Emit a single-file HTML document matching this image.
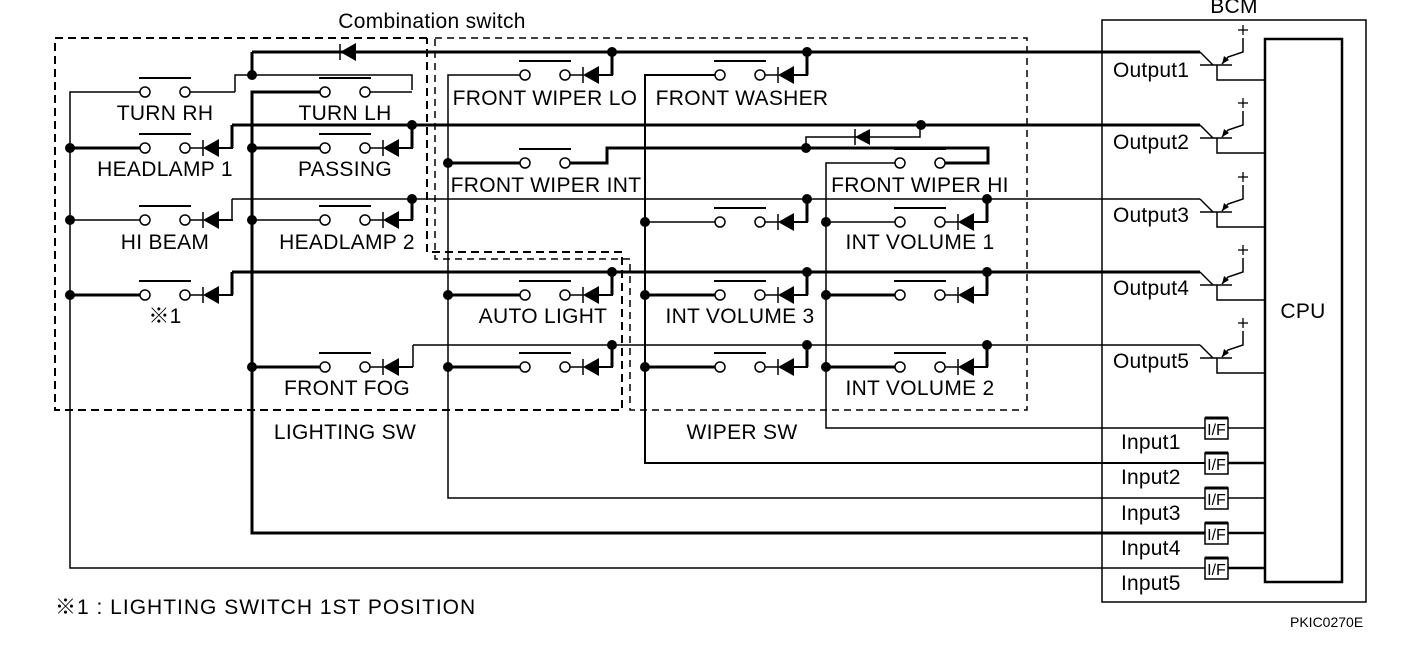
<!DOCTYPE html>
<html><head><meta charset="utf-8"><style>
html,body{margin:0;padding:0;background:#fff;}
svg{display:block;}
text{font-family:"Liberation Sans","Noto Sans CJK JP",sans-serif;fill:#000;}
</style></head><body>
<svg width="1408" height="650" viewBox="0 0 1408 650" xmlns="http://www.w3.org/2000/svg">
<defs>
<g id="sw">
<line x1="-6" y1="-14" x2="46" y2="-14" stroke="#000" stroke-width="2"/>
<line x1="45" y1="0" x2="58" y2="0" stroke="#000" stroke-width="1.5"/>
<line x1="58" y1="-8" x2="58" y2="8" stroke="#000" stroke-width="1.5"/>
<polygon points="58,0 74,-9 74,9" fill="#000"/>
<line x1="73" y1="0" x2="88" y2="0" stroke="#000" stroke-width="2"/>
<circle cx="0" cy="0" r="5" fill="#fff" stroke="#000" stroke-width="1.5"/>
<circle cx="40" cy="0" r="5" fill="#fff" stroke="#000" stroke-width="1.5"/>
</g>
<g id="sw0">
<line x1="-6" y1="-14" x2="46" y2="-14" stroke="#000" stroke-width="2"/>
<circle cx="0" cy="0" r="5" fill="#fff" stroke="#000" stroke-width="1.5"/>
<circle cx="40" cy="0" r="5" fill="#fff" stroke="#000" stroke-width="1.5"/>
</g>
<g id="tr">
<polyline points="0,0 13,13" fill="none" stroke="#000" stroke-width="1.5"/>
<line x1="0" y1="13" x2="32" y2="13" stroke="#000" stroke-width="1.5"/>
<polyline points="17,13 17,28 65,28" fill="none" stroke="#000" stroke-width="1.5"/>
<polyline points="22,12 28,5 43,0 43,-14" fill="none" stroke="#000" stroke-width="1.5"/>
<polygon points="22,12 24,4 29,8" fill="#000"/>
<line x1="38" y1="-22" x2="48" y2="-22" stroke="#000" stroke-width="1.3"/>
<line x1="43" y1="-27" x2="43" y2="-17" stroke="#000" stroke-width="1.3"/>
</g>
<g id="if">
<rect x="0" y="-10" width="23" height="21" fill="#fff" stroke="#000" stroke-width="1.5"/>
<line x1="0" y1="-10" x2="23" y2="-10" stroke="#000" stroke-width="3"/>
<text x="11.5" y="7" font-size="16" text-anchor="middle">I/F</text>
</g>
</defs>

<g fill="none" stroke="#000" stroke-width="2" stroke-dasharray="8,5">
<polyline points="427,38 55,38 55,410 622,410 622,252 427,252 427,38"/>
<polyline points="435,38 1027,38 1027,410 630,410 630,259 435,259 435,38" stroke-width="1.5" stroke-dasharray="7,5"/>
</g>

<g fill="none" stroke="#000" stroke-linejoin="miter">
<line x1="252" y1="52" x2="1200" y2="52" stroke-width="3"/>
<line x1="232" y1="125" x2="1200" y2="125" stroke-width="3"/>
<line x1="232" y1="199" x2="1200" y2="199" stroke-width="1.5"/>
<line x1="232" y1="272" x2="1200" y2="272" stroke-width="3"/>
<line x1="413" y1="345" x2="1200" y2="345" stroke-width="1.5"/>

<polyline points="252,52 252,75" stroke-width="3"/>
<polyline points="235,92 235,75 412,75 412,90" stroke-width="1.5"/>
<polyline points="190,92 235,92" stroke-width="1.5"/>
<polyline points="370,92 412,92" stroke-width="1.5"/>
<polyline points="140,92 70,92 70,568 1205,568" stroke-width="1.5"/>
<polyline points="320,92 252,92 252,533 1205,533" stroke-width="3"/>
<polyline points="520,75 448,75 448,498 1205,498" stroke-width="1.5"/>
<polyline points="715,75 645,75 645,463 1205,463" stroke-width="2"/>
<polyline points="895,163 826,163 826,428 1205,428" stroke-width="1.5"/>

<line x1="70" y1="148" x2="140" y2="148" stroke-width="3"/>
<line x1="70" y1="220" x2="140" y2="220" stroke-width="1.5"/>
<line x1="70" y1="295" x2="140" y2="295" stroke-width="3"/>
<line x1="252" y1="148" x2="320" y2="148" stroke-width="3"/>
<line x1="252" y1="220" x2="320" y2="220" stroke-width="1.5"/>
<line x1="252" y1="367" x2="320" y2="367" stroke-width="3"/>
<polyline points="232,148 232,125" stroke-width="3"/>
<polyline points="232,220 232,199" stroke-width="1.5"/>
<polyline points="232,295 232,272" stroke-width="3"/>
<polyline points="412,148 412,125" stroke-width="3"/>
<polyline points="412,220 412,199" stroke-width="3"/>
<polyline points="413,367 413,345" stroke-width="1.5"/>

<polyline points="612,75 612,52" stroke-width="3"/>
<polyline points="807,75 807,52" stroke-width="3"/>
<line x1="448" y1="163" x2="520" y2="163" stroke-width="3"/>
<polyline points="570,163 607,163 607,148 988,148 988,163 945,163" stroke-width="3"/>
<polyline points="806,148 806,137 920,137 920,125" stroke-width="1.5"/>
<line x1="448" y1="295" x2="520" y2="295" stroke-width="3"/>
<line x1="448" y1="367" x2="520" y2="367" stroke-width="3"/>
<polyline points="612,295 612,272" stroke-width="3"/>
<polyline points="612,367 612,345" stroke-width="3"/>
<line x1="645" y1="222" x2="715" y2="222" stroke-width="1.5"/>
<line x1="645" y1="295" x2="715" y2="295" stroke-width="3"/>
<line x1="645" y1="367" x2="715" y2="367" stroke-width="3"/>
<polyline points="807,222 807,199" stroke-width="3"/>
<polyline points="807,295 807,272" stroke-width="3"/>
<polyline points="807,367 807,345" stroke-width="3"/>
<line x1="826" y1="222" x2="895" y2="222" stroke-width="1.5"/>
<line x1="826" y1="295" x2="895" y2="295" stroke-width="3"/>
<line x1="826" y1="367" x2="895" y2="367" stroke-width="3"/>
<polyline points="987,222 987,199" stroke-width="3"/>
<polyline points="987,295 987,272" stroke-width="3"/>
<polyline points="987,367 987,345" stroke-width="3"/>

<rect x="1102" y="20" width="264" height="582" stroke-width="1.5"/>
<rect x="1265" y="39" width="77" height="543" stroke-width="2.5"/>
<line x1="1228" y1="428" x2="1265" y2="428" stroke-width="1.5"/>
<line x1="1228" y1="463" x2="1265" y2="463" stroke-width="2.5"/>
<line x1="1228" y1="498" x2="1265" y2="498" stroke-width="1.5"/>
<line x1="1228" y1="533" x2="1265" y2="533" stroke-width="2.5"/>
<line x1="1228" y1="568" x2="1265" y2="568" stroke-width="2.5"/>
</g>

<line x1="340" y1="44" x2="340" y2="60" stroke="#000" stroke-width="1.5"/>
<polygon points="340,52 356,43 356,61" fill="#000"/>
<line x1="855" y1="129" x2="855" y2="145" stroke="#000" stroke-width="1.5"/>
<polygon points="855,137 870,129 870,145" fill="#000"/>

<use href="#tr" x="1200" y="52"/>
<use href="#tr" x="1200" y="125"/>
<use href="#tr" x="1200" y="199"/>
<use href="#tr" x="1200" y="272"/>
<use href="#tr" x="1200" y="345"/>
<use href="#if" x="1205" y="428"/>
<use href="#if" x="1205" y="463"/>
<use href="#if" x="1205" y="498"/>
<use href="#if" x="1205" y="533"/>
<use href="#if" x="1205" y="568"/>

<use href="#sw0" x="145" y="92"/>
<use href="#sw0" x="325" y="92"/>
<use href="#sw" x="145" y="148"/>
<use href="#sw" x="325" y="148"/>
<use href="#sw" x="145" y="220"/>
<use href="#sw" x="325" y="220"/>
<use href="#sw" x="145" y="295"/>
<use href="#sw" x="325" y="367"/>
<use href="#sw" x="525" y="75"/>
<use href="#sw" x="720" y="75"/>
<use href="#sw0" x="525" y="163"/>
<use href="#sw0" x="900" y="163"/>
<use href="#sw" x="720" y="222"/>
<use href="#sw" x="900" y="222"/>
<use href="#sw" x="525" y="295"/>
<use href="#sw" x="720" y="295"/>
<use href="#sw" x="900" y="295"/>
<use href="#sw" x="525" y="367"/>
<use href="#sw" x="720" y="367"/>
<use href="#sw" x="900" y="367"/>

<g fill="#000">
<circle cx="252" cy="75" r="5"/>
<circle cx="70" cy="148" r="5"/><circle cx="70" cy="220" r="5"/><circle cx="70" cy="295" r="5"/>
<circle cx="252" cy="148" r="5"/><circle cx="252" cy="220" r="5"/><circle cx="252" cy="367" r="5"/>
<circle cx="412" cy="125" r="5"/><circle cx="412" cy="199" r="5"/>
<circle cx="612" cy="52" r="5"/><circle cx="807" cy="52" r="5"/>
<circle cx="448" cy="163" r="5"/><circle cx="448" cy="295" r="5"/><circle cx="448" cy="367" r="5"/>
<circle cx="806" cy="148" r="5"/><circle cx="921" cy="125" r="5"/>
<circle cx="807" cy="199" r="5"/><circle cx="987" cy="199" r="5"/>
<circle cx="612" cy="272" r="5"/><circle cx="807" cy="272" r="5"/><circle cx="987" cy="272" r="5"/>
<circle cx="612" cy="345" r="5"/><circle cx="807" cy="345" r="5"/><circle cx="987" cy="345" r="5"/>
<circle cx="645" cy="222" r="5"/><circle cx="645" cy="295" r="5"/><circle cx="645" cy="367" r="5"/>
<circle cx="826" cy="222" r="5"/><circle cx="826" cy="295" r="5"/><circle cx="826" cy="367" r="5"/>
</g>

<g font-size="21" text-anchor="middle" letter-spacing="0.3">
<text x="432" y="28">Combination switch</text>
<text x="165" y="120">TURN RH</text>
<text x="345" y="120">TURN LH</text>
<text x="165" y="176">HEADLAMP 1</text>
<text x="345" y="176">PASSING</text>
<text x="165" y="249">HI BEAM</text>
<text x="347" y="249">HEADLAMP 2</text>
<text x="165" y="323">※1</text>
<text x="347" y="395">FRONT FOG</text>
<text x="545" y="105">FRONT WIPER LO</text>
<text x="742" y="105">FRONT WASHER</text>
<text x="546" y="192">FRONT WIPER INT</text>
<text x="920" y="192">FRONT WIPER HI</text>
<text x="920" y="249">INT VOLUME 1</text>
<text x="543" y="323">AUTO LIGHT</text>
<text x="740" y="323">INT VOLUME 3</text>
<text x="920" y="395">INT VOLUME 2</text>
<text x="345" y="439">LIGHTING SW</text>
<text x="742" y="439">WIPER SW</text>
<text x="1234" y="13">BCM</text>
<text x="1303" y="318">CPU</text>
</g>
<g font-size="21" letter-spacing="0.2">
<text x="1113" y="77">Output1</text>
<text x="1113" y="149">Output2</text>
<text x="1113" y="222">Output3</text>
<text x="1113" y="295">Output4</text>
<text x="1113" y="368">Output5</text>
<text x="1121" y="449">Input1</text>
<text x="1121" y="484">Input2</text>
<text x="1121" y="520">Input3</text>
<text x="1121" y="555">Input4</text>
<text x="1121" y="590">Input5</text>
<text x="55" y="614" letter-spacing="1">※1 : LIGHTING SWITCH 1ST POSITION</text>
</g>
<text x="1290" y="627" font-size="14">PKIC0270E</text>
</svg>
</body></html>
